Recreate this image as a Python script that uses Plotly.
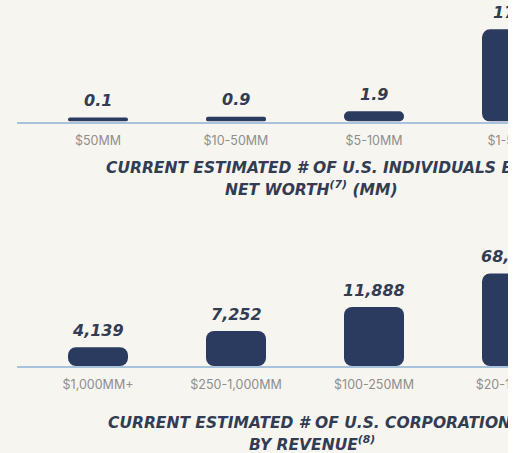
import plotly.graph_objects as go

# colours
BG = "#f7f5f0"
NAVY = "#2b3a5f"
INK = "#323c53"
GREY = "#8e8e8e"
RULE = "#a9c3dc"

# data
WEALTH_BANDS = ["$50MM", "$10-50MM", "$5-10MM", "$1-5MM"]
INDIVIDUALS_MM = [0.1, 0.9, 1.9, 17.2]
REVENUE_BANDS = ["$1,000MM+", "$250-1,000MM", "$100-250MM", "$20-100MM"]
CORPORATIONS = [4139, 7252, 11888, 68540]

W, H = 610, 453          # full graphic; the page shows it cropped at 508px
VISIBLE_W = 508
LEFT = 17
BAND = 138               # px per category
FIRST_CENTER = 98
BAR_W = 60

MIN_PX, MAX_PX = 4, 92.5  # infographic floors tiny bars and caps the big one


def label_font(size):
    return dict(family="DejaVu Sans", size=size, color=INK, weight="bold", style="italic")


def add_panel(fig, n, cats, vals, texts, b0, ppu, base_px, top_px):
    xa, ya = ("x", "y") if n == 1 else (f"x{n}", f"y{n}")
    shown = []
    for v in vals:
        px = min(max((v - b0) * ppu, MIN_PX), MAX_PX)
        shown.append(b0 + px / ppu)
    fig.add_trace(go.Bar(x=cats, y=[s - b0 for s in shown], base=b0,
                         width=BAR_W / BAND, xaxis=xa, yaxis=ya, hoverinfo="skip",
                         marker=dict(color=NAVY, cornerradius=8, line=dict(width=0))))
    for c, s, t in zip(cats, shown, texts):
        fig.add_annotation(x=c, y=s, xref=xa, yref=ya, text=t, showarrow=False,
                           yanchor="middle", yshift=17, font=label_font(16))

    x0 = -(FIRST_CENTER - LEFT) / BAND
    x1 = x0 + (W - 2 * LEFT) / BAND
    axis_x = dict(range=[x0, x1], type="category", categoryorder="array", categoryarray=cats,
                  showgrid=False, zeroline=False, showline=True, linecolor=RULE, linewidth=2,
                  ticks="outside", ticklen=6, tickcolor="rgba(0,0,0,0)",
                  tickfont=dict(family="Inter", size=12.5, color=GREY),
                  layer="below traces", anchor=ya, domain=[0, 1], fixedrange=True)
    axis_y = dict(domain=[(H - base_px) / H, (H - top_px) / H],
                  range=[b0, b0 + (base_px - top_px) / ppu],
                  visible=False, fixedrange=True, anchor=xa)
    key = "" if n == 1 else str(n)
    fig.update_layout(**{f"xaxis{key}": axis_x, f"yaxis{key}": axis_y})


fig = go.Figure()
add_panel(fig, 1, WEALTH_BANDS, INDIVIDUALS_MM, [f"{v:.1f}" for v in INDIVIDUALS_MM],
          b0=0, ppu=5.36, base_px=121.5, top_px=0)
add_panel(fig, 2, REVENUE_BANDS, CORPORATIONS, [f"{v:,}" for v in CORPORATIONS],
          b0=500, ppu=0.00518, base_px=366, top_px=226)

titles = [
    ("CURRENT ESTIMATED # OF U.S. INDIVIDUALS BY", 315, 168),
    ("NET WORTH<sup>(7)</sup> (MM)", 311, 188),
    ("CURRENT ESTIMATED # OF U.S. CORPORATIONS", 315, 423),
    ("BY REVENUE<sup>(8)</sup>", 312, 443),
]
for t, x, y in titles:
    fig.add_annotation(x=(x - LEFT) / (W - 2 * LEFT), y=1 - y / H, xref="paper", yref="paper",
                       text=t, showarrow=False, xanchor="center", yanchor="middle",
                       font=label_font(15.5))

fig.update_layout(
    width=W, height=H,
    margin=dict(l=LEFT, r=LEFT, t=0, b=0),
    paper_bgcolor=BG, plot_bgcolor=BG,
    barmode="overlay", showlegend=False,
)

crop = (
    "document.body.style.margin='0';"
    "var d=document.getElementById('{plot_id}');"
    f"d.style.width='{VISIBLE_W}px';d.style.overflow='hidden';"
)
fig.write_html("out.html", config={"displayModeBar": False}, post_script=crop)
